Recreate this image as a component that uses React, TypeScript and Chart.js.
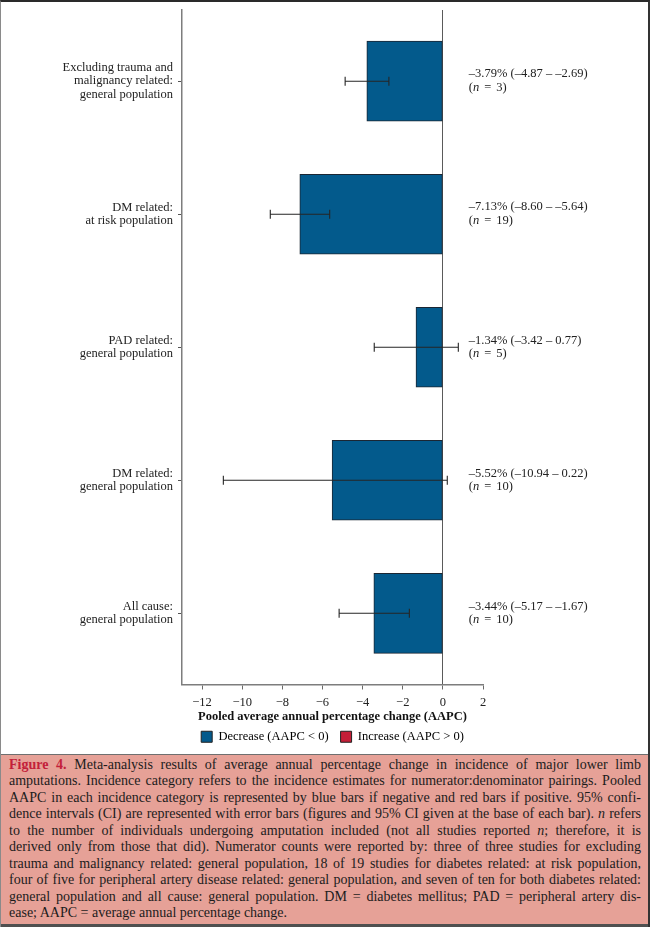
import React, { useEffect, useRef } from 'react';
import { Chart, registerables } from 'chart.js';

Chart.register(...registerables);

// ---------- data ----------
const categories: string[][] = [
  ['Excluding trauma and', 'malignancy related:', 'general population'],
  ['DM related:', 'at risk population'],
  ['PAD related:', 'general population'],
  ['DM related:', 'general population'],
  ['All cause:', 'general population'],
];
const aapc = [-3.79, -7.13, -1.34, -5.52, -3.44];
const ciLow = [-4.87, -8.6, -3.42, -10.94, -5.17];
const ciHigh = [-2.69, -5.64, 0.77, 0.22, -1.67];
const nCounts = [3, 19, 5, 10, 10];
const xTicks = [-12, -10, -8, -6, -4, -2, 0, 2];
const legendLabels = ['Decrease (AAPC < 0)', 'Increase (AAPC > 0)'];
const xTitle = 'Pooled average annual percentage change (AAPC)';

const captionLines: string[] = [
  'Meta-analysis results of average annual percentage change in incidence of major lower limb',
  'amputations. Incidence category refers to the incidence estimates for numerator:denominator pairings. Pooled',
  'AAPC in each incidence category is represented by blue bars if negative and red bars if positive. 95% confi-',
  'dence intervals (CI) are represented with error bars (figures and 95% CI given at the base of each bar). |n| refers',
  'to the number of individuals undergoing amputation included (not all studies reported |n|; therefore, it is',
  'derived only from those that did). Numerator counts were reported by: three of three studies for excluding',
  'trauma and malignancy related: general population, 18 of 19 studies for diabetes related: at risk population,',
  'four of five for peripheral artery disease related: general population, and seven of ten for both diabetes related:',
  'general population and all cause: general population. DM = diabetes mellitus; PAD = peripheral artery dis-',
  'ease; AAPC = average annual percentage change.',
];
const captionLabel = 'Figure 4.';

// ---------- styles ----------
const FONT = '"Liberation Serif", "Times New Roman", serif';
const BLUE = '#035a8c';
const RED = '#c41f38';
const TEXT = '#222222';

const dash = (v: number) => (v < 0 ? '\u2013' : '') + Math.abs(v).toFixed(2);
const tickFmt = (v: number) => (v < 0 ? '\u2212' + Math.abs(v) : String(v));

const annotationPlugin = {
  id: 'annotations',
  afterDatasetsDraw(chart: any) {
    const { ctx, scales } = chart;
    const x = scales.x;
    const y = scales.y;
    ctx.save();
    aapc.forEach((v, i) => {
      const cy = y.getPixelForValue(i);
      const x1 = x.getPixelForValue(ciLow[i]);
      const x2 = x.getPixelForValue(ciHigh[i]);
      ctx.strokeStyle = '#262626';
      ctx.lineWidth = 1.1;
      ctx.beginPath();
      ctx.moveTo(x1, cy);
      ctx.lineTo(x2, cy);
      ctx.moveTo(x1, cy - 4.5);
      ctx.lineTo(x1, cy + 4.5);
      ctx.moveTo(x2, cy - 4.5);
      ctx.lineTo(x2, cy + 4.5);
      ctx.stroke();

      const tx = x.getPixelForValue(0) + 26;
      ctx.fillStyle = TEXT;
      ctx.textBaseline = 'middle';
      ctx.textAlign = 'left';
      ctx.font = `12.5px ${FONT}`;
      const l1 = `${dash(v)}% (${dash(ciLow[i])} \u2013 ${dash(ciHigh[i])})`;
      ctx.fillText(l1, tx, cy - 7);
      const y2 = cy + 6.5;
      let cx = tx;
      ctx.fillText('(', cx, y2);
      cx += ctx.measureText('(').width;
      ctx.font = `italic 12.5px ${FONT}`;
      ctx.fillText('n', cx, y2);
      cx += ctx.measureText('n').width + 5;
      ctx.font = `12.5px ${FONT}`;
      ctx.fillText('=', cx, y2);
      cx += ctx.measureText('=').width + 5;
      ctx.fillText(`${nCounts[i]})`, cx, y2);
    });
    ctx.restore();
  },
};

function ChartCanvas() {
  const ref = useRef<HTMLCanvasElement | null>(null);
  useEffect(() => {
    if (!ref.current) return;
    const chart = new Chart(ref.current, {
      type: 'bar',
      data: {
        datasets: [
          {
            data: aapc.map((v, i) => ({ x: v, y: i })) as any,
            backgroundColor: aapc.map((v) => (v < 0 ? BLUE : RED)),
            borderColor: '#1b2633',
            borderWidth: 1,
            borderSkipped: false,
            barThickness: 80,
          } as any,
        ],
      },
      options: {
        indexAxis: 'y',
        animation: false,
        responsive: false,
        devicePixelRatio: 1,
        layout: { padding: { top: 10, right: 167, left: 0, bottom: 1 } },
        scales: {
          x: {
            type: 'linear',
            min: -13,
            max: 2,
            afterBuildTicks: (s: any) => {
              s.ticks = xTicks.map((v) => ({ value: v }));
            },
            afterFit: (s: any) => {
              s.height = s.height - 4;
            },
            grid: {
              drawOnChartArea: true,
              color: (c: any) => (c.tick && c.tick.value === 0 ? '#5a5a5a' : 'rgba(0,0,0,0)'),
              tickColor: '#6a6a6a',
              tickLength: 5,
              lineWidth: 1,
            },
            border: { color: '#7d7d7d', width: 1.5 },
            ticks: {
              callback: (v: any) => tickFmt(Number(v)),
              font: { family: FONT, size: 12.5 },
              color: TEXT,
              padding: 6,
              maxRotation: 0,
            },
            title: {
              display: true,
              text: xTitle,
              font: { family: FONT, size: 12.5, weight: 'bold' },
              color: '#111',
              padding: { top: -3, bottom: -6 },
            },
          },
          y: {
            type: 'linear',
            min: -0.535,
            max: 4.535,
            reverse: true,
            offset: false,
            afterBuildTicks: (s: any) => {
              s.ticks = categories.map((_, i) => ({ value: i }));
            },
            afterFit: (s: any) => {
              s.width = 182;
              s.paddingTop = 0;
              s.paddingBottom = 0;
            },
            grid: { offset: false, drawOnChartArea: false, tickLength: 4, tickColor: '#555', lineWidth: 1 },
            border: { color: '#7d7d7d', width: 1.5 },
            ticks: {
              callback: (v: any) => categories[Number(v)],
              font: { family: FONT, size: 12.5, lineHeight: 1.1 },
              color: TEXT,
              padding: 5,
            },
          },
        },
        plugins: {
          legend: {
            position: 'bottom',
            fullSize: false,
            labels: {
              boxWidth: 11,
              boxHeight: 11,
              padding: 12,
              color: TEXT,
              font: { family: FONT, size: 12.5 },
              generateLabels: () =>
                legendLabels.map((t, i) => ({
                  text: t,
                  fillStyle: i === 0 ? BLUE : RED,
                  strokeStyle: '#222',
                  lineWidth: 1,
                  hidden: false,
                  datasetIndex: 0,
                })),
            },
          },
          tooltip: { enabled: false },
        },
      } as any,
      plugins: [annotationPlugin],
    });
    return () => chart.destroy();
  }, []);
  return (
    <canvas
      ref={ref}
      width={650}
      height={754}
      style={{ position: 'absolute', left: 0, top: 0, width: 650, height: 754, background: '#fff' }}
    />
  );
}

function renderLine(line: string) {
  const parts = line.split('|');
  return parts.map((p, i) =>
    i % 2 === 1 ? (
      <i key={i}>{p}</i>
    ) : (
      <React.Fragment key={i}>{p}</React.Fragment>
    )
  );
}

export default function App() {
  return (
    <div
      style={{
        position: 'absolute',
        left: 0,
        top: 0,
        width: 650,
        height: 927,
        background: '#fff',
        overflow: 'hidden',
      }}
    >
      <ChartCanvas />
      <div
        style={{
          position: 'absolute',
          left: 0,
          top: 754,
          width: 650,
          height: 173,
          boxSizing: 'border-box',
          background: '#e6a197',
          borderTop: '1px solid #6f6f6f',
          borderBottom: '3px solid #505050',
          padding: '2px 9px 0 9px',
          fontFamily: FONT,
          fontSize: 14,
          lineHeight: '16.45px',
          color: '#1c1c1c',
        }}
      >
        {captionLines.map((line, i) => (
          <div
            key={i}
            style={{
              textAlign: 'justify',
              textAlignLast: i === captionLines.length - 1 ? 'left' : 'justify',
              whiteSpace: 'nowrap',
            }}
          >
            {i === 0 ? (
              <b style={{ color: '#c3203a' }}>{captionLabel} </b>
            ) : null}
            {renderLine(line)}
          </div>
        ))}
      </div>
      <div
        style={{
          position: 'absolute',
          left: 0,
          top: 0,
          width: 650,
          height: 927,
          boxSizing: 'border-box',
          borderTop: '2px solid #2a2a2a',
          borderLeft: '1px solid #8a8a8a',
          borderRight: '2px solid #333',
          pointerEvents: 'none',
        }}
      />
    </div>
  );
}
